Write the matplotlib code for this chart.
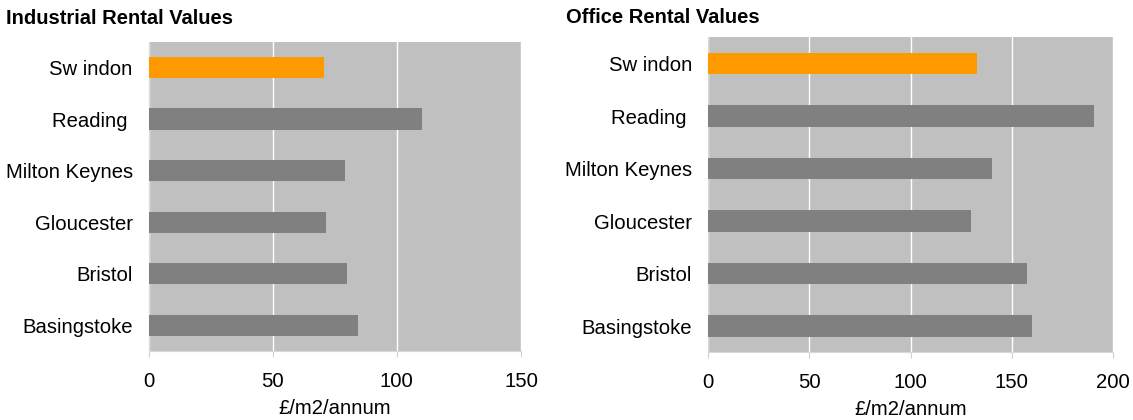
import matplotlib
matplotlib.use("Agg")
import matplotlib.pyplot as plt

towns = ["Basingstoke", "Bristol", "Gloucester", "Milton Keynes", "Reading ", "Sw indon"]
industrial = [84.5, 80, 71.5, 79, 110, 70.5]
office = [160, 157.5, 130, 140, 190.5, 133]
bar_colors = ["#808080", "#808080", "#808080", "#808080", "#808080", "#FF9900"]

plt.rcParams['font.family'] = ['Liberation Sans', 'DejaVu Sans']

fig = plt.figure(figsize=(11.33, 4.2), dpi=100)
ax1 = fig.add_axes([0.1312, 0.1643, 0.3286, 0.7364])
ax2 = fig.add_axes([0.6249, 0.1612, 0.3575, 0.75])


def draw_panel(ax, values, xmax, title, title_x, title_y):
    ax.set_facecolor("#C0C0C0")
    ax.barh(range(len(towns)), values, height=0.41, color=bar_colors, zorder=3)
    ax.set_xlim(0, xmax)
    ax.set_ylim(-0.5, len(towns) - 0.5)
    ax.set_xticks(range(0, xmax + 1, 50))
    ax.set_yticks(range(len(towns)))
    ax.set_yticklabels(towns)
    ax.grid(axis="x", color="white", linewidth=1, zorder=1)
    ax.tick_params(axis="x", length=4, color="#d0d0d0", labelsize=14.6, pad=11)
    ax.tick_params(axis="y", length=0, labelsize=14.6, pad=11.5)
    for s in ["top", "right"]:
        ax.spines[s].set_visible(False)
    for s in ["left", "bottom"]:
        ax.spines[s].set_color("#d9d9d9")
    ax.set_xlabel("£/m2/annum", fontsize=14.6, labelpad=6)
    fig.text(title_x, title_y, title, fontsize=14.5, fontweight="bold", ha="left", va="baseline")


draw_panel(ax1, industrial, 150, "Industrial Rental Values", 0.005, 1 - 24 / 420)
draw_panel(ax2, office, 200, "Office Rental Values", 0.5, 1 - 23 / 420)

fig.savefig("out.png", dpi=100)
